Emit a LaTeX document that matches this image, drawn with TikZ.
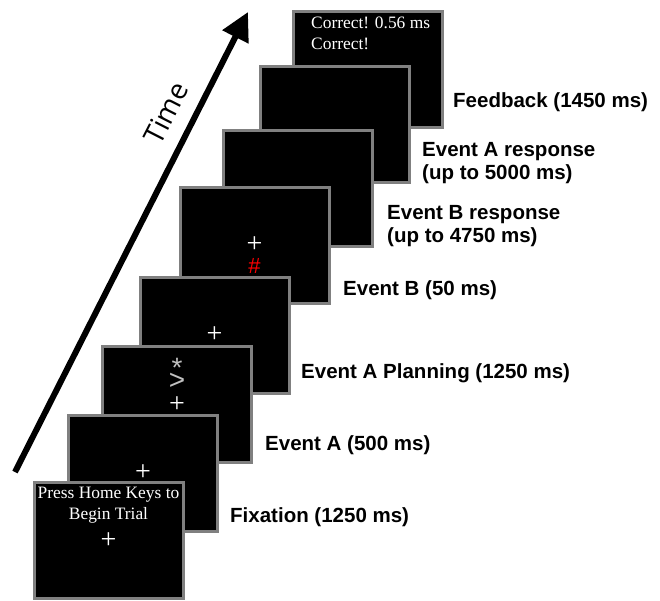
\documentclass[tikz,border=0pt]{standalone}
\usepackage{fontspec}
\setmainfont{Liberation Serif}
\setsansfont{Liberation Sans}
\newfontfamily\timefont{Open Sans}
\usepackage{xcolor}
\usepackage{tikz}
\usetikzlibrary{arrows.meta,positioning}
\definecolor{INK}{HTML}{000000}
\definecolor{RIM}{HTML}{808080}
\definecolor{GLYPH}{HTML}{C0C0C0}
\definecolor{HASH}{HTML}{FF0000}

\begin{document}
\begin{tikzpicture}[
  x=1pt, y=-1pt,
  screen/.style={draw=RIM, fill=black, line width=3pt, minimum width=149pt,
    minimum height=116pt, inner sep=0pt},
  cue/.style={text=white, inner sep=0pt, font=\fontsize{28}{28}\selectfont},
  sym/.style={text=GLYPH, inner sep=0pt, align=center, font=\sffamily\fontsize{28}{28}\selectfont},
  msg/.style={text=white, inner sep=0pt, font=\fontsize{17.4}{20.5}\selectfont},
  stage/.style={anchor=west, align=left, inner sep=0pt, text=INK,
    font=\sffamily\bfseries\fontsize{20.5}{22.5}\selectfont},
  clock/.style={-{Triangle[length=28pt, width=28pt]}, draw=INK, line width=6pt},
]
\useasboundingbox (0,0) rectangle (660,600);

% ---- time arrow -----------------------------------------------------------
\coordinate (t0) at (15,472);
\coordinate (t1) at (248,12);
\draw[clock] (t0) -- (t1);
\node[font=\timefont\fontsize{28}{28}\selectfont, text=INK, rotate=63] (time) at (166,113) {Time};

% ---- screens, back to front -----------------------------------------------
\node[screen] (corr) at (367.5,69) {};
\node[msg, anchor=west, align=left] (corrtxt) at (311,33.5) {Correct! 0.56 ms\\Correct!};

\node[screen] (feed) at (334.5,124) {};

\node[screen] (aresp) at (297.5,188.5) {};

\node[screen] (bresp) at (254.5,245) {};
\node[cue] (brespfix) at (bresp.center) {+};
\node[text=HASH, inner sep=0pt, font=\sffamily\fontsize{22}{22}\selectfont] (hash) at (254.5,266) {\#};

\node[screen] (evb) at (214.5,335) {};
\node[cue] (evbfix) at (evb.center) {+};

\node[screen] (plan) at (177,404.5) {};
\node[cue] (planfix) at (plan.center) {+};
\node[sym] (cue2) at (177,373.7) {*\\[-16.6pt]>};

\node[screen] (eva) at (143,473) {};
\node[cue] (evafix) at (eva.center) {+};

\node[screen] (fix) at (108.5,540) {};
\node[msg, align=center] (press) at (108.5,505) {Press Home Keys to\\Begin Trial};
\node[cue] (fixfix) at (108.5,541) {+};

% ---- stage labels ---------------------------------------------------------
\node[stage] (lfeed) at (453,102) {Feedback (1450 ms)};
\node[stage] (laresp) at (422,163) {Event A response\\(up to 5000 ms)};
\node[stage] (lbresp) at (387,226) {Event B response\\(up to 4750 ms)};
\node[stage] (levb) at (343,290) {Event B (50 ms)};
\node[stage] (lplan) at (301,373) {Event A Planning (1250 ms)};
\node[stage] (leva) at (265,445) {Event A (500 ms)};
\node[stage] (lfix) at (230,517) {Fixation (1250 ms)};

\end{tikzpicture}
\end{document}
